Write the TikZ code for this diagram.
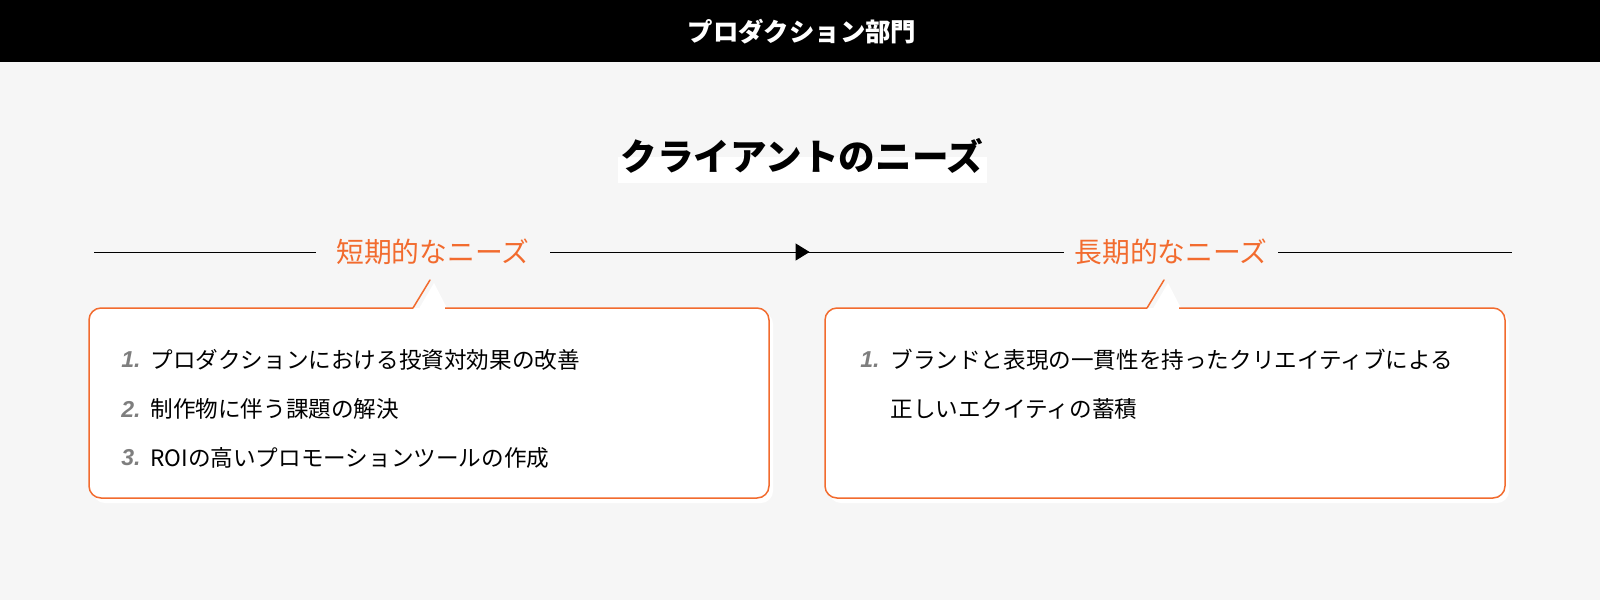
\documentclass[tikz,border=0pt]{standalone}
\usepackage{fontspec}
\setmainfont{Noto Sans CJK JP}
\newfontfamily\numfont{Liberation Sans}
\usetikzlibrary{arrows.meta, decorations.markings}

\definecolor{needorange}{HTML}{F26B2E}
\definecolor{pagegray}{HTML}{F6F6F6}
\definecolor{numgray}{HTML}{7E7E7E}

\tikzset{
  itemtext/.style={anchor=west, inner sep=0pt, font=\fontsize{11.3}{13}\selectfont},
  itemnum/.style={anchor=west, inner sep=0pt, text=numgray, font=\numfont\bfseries\itshape\fontsize{11.5}{13}\selectfont},
  needhead/.style={text=needorange, inner ysep=2pt, font=\fontsize{13.9}{16}\selectfont},
  headline/.style={draw=black, line width=0.5pt},
  boxline/.style={draw=needorange, line width=0.75pt},
}

\begin{document}
\begin{tikzpicture}[x=0.5pt, y=-0.5pt]
      \useasboundingbox (0,0) rectangle (1600,600);
      \fill[pagegray] (0,0) rectangle (1600,600);
      %
      \fill[black] (0,0) rectangle (1600,62);
      \node[text=white, font=\bfseries\fontsize{12.7}{15}\selectfont] (dept) at (802,32) {プロダクション部門};
      %
      \fill[white] (618,157) rectangle (987,183);
      \node[font=\bfseries\fontsize{18.3}{21}\selectfont] (needs) at (802,156) {クライアントのニーズ};
      %
      \node[needhead, inner xsep=10pt] (shortneed) at (433,252) {短期的なニーズ};
      \node[needhead, inner xsep=5pt] (longneed) at (1171,252) {長期的なニーズ};
      \coordinate (lineL) at (94,252);
      \coordinate (lineR) at (1512,252);
      \draw[headline] (lineL) -- (shortneed.west);
      \draw[headline] (longneed.east) -- (lineR);
      \draw[headline, postaction={decorate},
        decoration={markings, mark=at position 0.505 with {\arrow{Triangle[length=7pt, width=8.5pt]}}}]
        (shortneed.east) -- (longneed.west);
      %
      \foreach \bx/\tx in {89/430, 825/1164} {
        \fill[white, rounded corners=6pt] ({\bx+4},312) rectangle ({\bx+684},503);
        \fill[white] ({\tx-13},312) -- ({\tx+4},283) -- ({\tx+19},312) -- cycle;
        \fill[white, rounded corners=6pt] (\bx,308) rectangle ({\bx+680},498);
        \draw[boxline, rounded corners=6pt] ({\tx+15},308) -- ({\bx+680},308) -- ({\bx+680},498)
          -- (\bx,498) -- (\bx,308) -- ({\tx-17},308);
        \draw[boxline, line cap=round] ({\tx-17},308) -- (\tx,280);
      }
      %
      \node[itemnum] (lnum1) at (121,360) {1.};
      \node[itemtext] (litem1) at (150,360) {プロダクションにおける投資対効果の改善};
      \node[itemnum] (lnum2) at (121,409) {2.};
      \node[itemtext] (litem2) at (150,409) {制作物に伴う課題の解決};
      \node[itemnum] (lnum3) at (121,458) {3.};
      \node[itemtext] (litem3) at (150,458) {ROIの高いプロモーションツールの作成};
      %
      \node[itemnum] (rnum1) at (860,360) {1.};
      \node[itemtext] (ritem1) at (890,360) {ブランドと表現の一貫性を持ったクリエイティブによる};
      \node[itemtext] (ritem2) at (890,409) {正しいエクイティの蓄積};
    \end{tikzpicture}
\end{document}
